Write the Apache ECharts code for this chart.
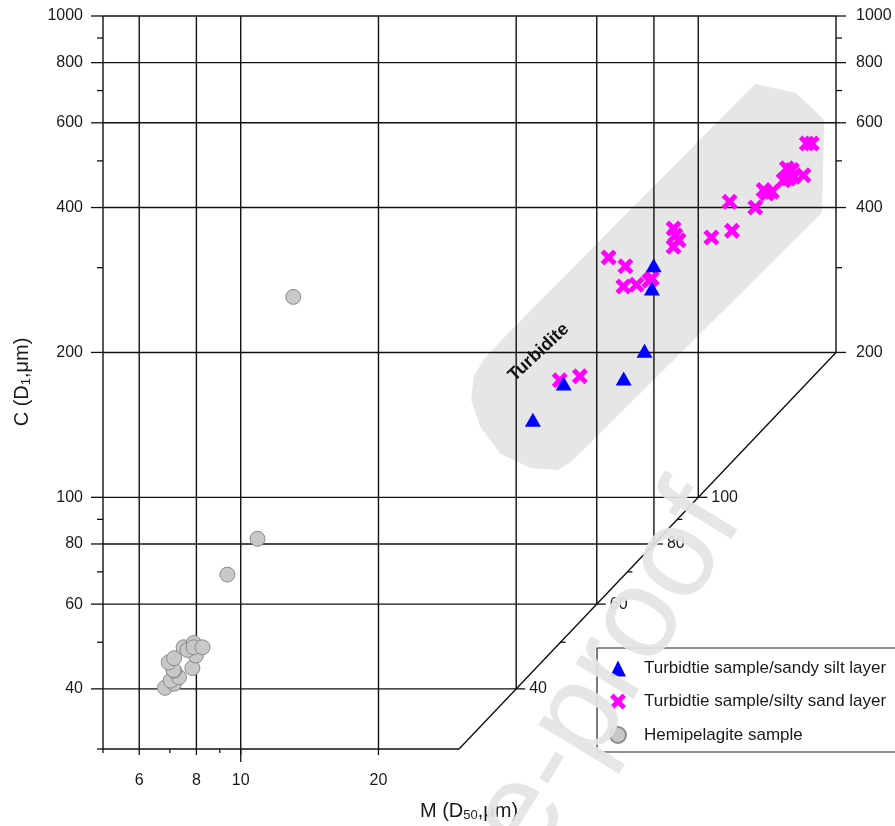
<!DOCTYPE html>
<html><head><meta charset="utf-8">
<script src="https://cdn.jsdelivr.net/npm/echarts@6/dist/echarts.min.js"></script>
<style>html,body{margin:0;padding:0;background:#fff}#chart{width:895px;height:826px}</style>
</head><body><div id="chart"></div>
<script>
// ---- axis ranges ----
const M_MIN = 5, M_MAX = 200, C_MIN = 30, C_MAX = 1000;
// ---- grid lines & ticks ----
const xGridValues = [6, 8, 10, 20, 40, 60, 80, 100];
const yGridValues = [40, 60, 80, 100, 200, 400, 600, 800, 1000];
const xTickLabels = [6, 8, 10, 20];
const xMinorTicks = [5, 7, 9];
const xLongTicks = [10];
const yTickLabels = [40, 60, 80, 100, 200, 400, 600, 800, 1000];
const yMinorTicks = [30, 50, 70, 90, 300, 500, 700, 900];
const rightTickLabels = [200, 400, 600, 800, 1000];
const rightMinorTicks = [300, 500, 700, 900];
const diagTickLabels = [40, 60, 80, 100];
const diagMinorTicks = [50, 70, 90];

// ---- data: M (D50) and C (D1), µm ----
const sandySiltM = [43.5, 50.8, 68.7, 76.3, 79.2, 79.9];
const sandySiltC = [145.0, 172.4, 176.5, 201.5, 271.6, 303.6];

const siltySandM = [49.8, 55.1, 63.7, 69.3, 68.6, 73.3, 78.2, 79.2, 88.3, 89.1, 88.3, 90.6, 106.8, 118.5, 117.1, 133.2, 141.3, 144.9, 138.9, 160.2, 157.5, 153.6, 161.5, 169.8, 156.2, 172.7, 177.1];
const siltySandC = [175.1, 178.5, 315, 302, 274.2, 276.6, 281.9, 285, 362, 350.5, 331.5, 342, 346.7, 357.9, 411.2, 400.2, 427.9, 431.2, 434.8, 478.5, 459.7, 456, 463.4, 467, 482.5, 543.6, 543.6];

const hemiM = [6.83, 7.15, 7.03, 7.33, 7.15, 7.13, 6.96, 7.84, 7.15, 7.98, 7.50, 7.65, 7.89, 7.89, 8.25, 9.35, 10.88, 13.03];
const hemiC = [40.2, 41.0, 41.6, 42.3, 43.6, 43.8, 45.4, 44.2, 46.3, 46.9, 48.8, 48.2, 49.8, 48.8, 48.8, 69.1, 82.0, 260.9];

// ---- turbidite field ----
const zoneM = [133.2, 163.7, 188.4, 186.5, 52.5, 49.2, 43.0, 37.0, 33.4, 31.9, 32.3, 33.9, 38.9];
const zoneC = [722, 692, 608, 390, 118, 114, 115, 123, 140, 159, 178, 193, 222];
const zoneLabel = 'Turbidite';
const zoneLabelPos = [44.8, 200];

const seriesNames = ['Turbidtie sample/sandy silt layer', 'Turbidtie sample/silty sand layer', 'Hemipelagite sample'];

const FONT = 'Arial, "Liberation Sans", Helvetica, sans-serif';
const INK = '#111';
const TXT = '#1a1a1a';

function segSeries(segs, width, z) {
  return {
    type: 'custom', coordinateSystem: 'cartesian2d', silent: true, z: z, clip: false,
    data: segs, encode: { x: [0, 2], y: [1, 3] },
    renderItem(params, api) {
      const a = api.coord([api.value(0), api.value(1)]);
      const b = api.coord([api.value(2), api.value(3)]);
      return { type: 'line', shape: { x1: a[0], y1: a[1], x2: b[0], y2: b[1] }, style: { stroke: INK, lineWidth: width } };
    }
  };
}
function tickSeries(points, dx, dy, lab) {
  return {
    type: 'custom', coordinateSystem: 'cartesian2d', silent: true, z: 3, clip: false,
    data: points,
    renderItem(params, api) {
      const v = api.value(1), u = api.value(0);
      const p = api.coord([u, v]);
      const ch = [{ type: 'line', shape: { x1: p[0], y1: p[1], x2: p[0] + dx, y2: p[1] + dy }, style: { stroke: INK, lineWidth: 1.3 } }];
      if (lab) {
        ch.push({ type: 'text', x: p[0] + lab.dx, y: p[1] + lab.dy,
          style: { text: String(lab.useX ? u : v), fill: TXT, fontSize: 16, fontFamily: FONT, align: lab.align, verticalAlign: 'middle' } });
      }
      return { type: 'group', children: ch };
    }
  };
}

const segs = [];
yGridValues.forEach(c => segs.push([M_MIN, c, Math.min(c, M_MAX), c]));
xGridValues.forEach(m => segs.push([m, Math.max(m, C_MIN), m, C_MAX]));
segs.push([M_MIN, C_MIN, M_MIN, C_MAX]);
segs.push([M_MAX, M_MAX, M_MAX, C_MAX]);
segs.push([M_MIN, C_MIN, C_MIN, C_MIN]);
segs.push([C_MIN, C_MIN, M_MAX, M_MAX]);

const chart = echarts.init(document.getElementById('chart'), null, { renderer: 'canvas' });
const hidden = { axisLine: { show: false }, axisTick: { show: false }, axisLabel: { show: false }, splitLine: { show: false } };
const titleRich = { a: { fontSize: 20, fontFamily: FONT, fill: TXT }, s: { fontSize: 13, fontFamily: FONT, fill: TXT, padding: [9, 0, 0, 0] } };

const option = {
  animation: false,
  backgroundColor: '#fff',
  grid: { left: 103, right: 59, top: 16, bottom: 77 },
  xAxis: Object.assign({ type: 'log', logBase: 10, min: M_MIN, max: M_MAX }, hidden),
  yAxis: Object.assign({ type: 'log', logBase: 10, min: C_MIN, max: C_MAX }, hidden),
  legend: {
    orient: 'vertical', left: 597, top: 648, padding: [12, 40, 8, 12], itemGap: 16,
    itemWidth: 16, itemHeight: 16, borderColor: '#222', borderWidth: 1.2, backgroundColor: '#fff',
    textStyle: { fontSize: 17, color: TXT, fontFamily: FONT, padding: [0, 0, 0, 13] }, data: seriesNames, selectedMode: false
  },
  graphic: [
    { type: 'text', x: 22, y: 382, rotation: Math.PI / 2, z: 50,
      style: { text: '{a|C (D}{s|1}{a|,μm)}', align: 'center', verticalAlign: 'middle', rich: titleRich } },
    { type: 'text', x: 469, y: 811, z: 50,
      style: { text: '{a|M (D}{s|50}{a|,μm)}', align: 'center', verticalAlign: 'middle', rich: titleRich } },
    { type: 'text', x: 714, y: 500, rotation: 58.5 * Math.PI / 180, z: 200, silent: true,
      style: { text: 'Journal Pre-proof', align: 'right', verticalAlign: 'middle', fontSize: 128, fontFamily: FONT, fill: 'rgba(228,228,228,0.93)' } }
  ],
  series: [
    {
      type: 'custom', coordinateSystem: 'cartesian2d', silent: true, z: 1,
      data: zoneM.map((m, i) => [m, zoneC[i]]),
      renderItem(params, api) {
        if (params.dataIndex !== 0) return null;
        const pts = zoneM.map((m, i) => api.coord([m, zoneC[i]]));
        return { type: 'polygon', shape: { points: pts }, style: { fill: '#e6e6e6' } };
      }
    },
    segSeries(segs, 1.4, 2),
    tickSeries(yTickLabels.map(v => [M_MIN, v]), -12, 0, { dx: -20, dy: 0, align: 'right' }),
    tickSeries(yMinorTicks.map(v => [M_MIN, v]), -6, 0, null),
    tickSeries(rightTickLabels.map(v => [M_MAX, v]), 10, 0, { dx: 20, dy: 0, align: 'left' }),
    tickSeries(rightMinorTicks.map(v => [M_MAX, v]), 6, 0, null),
    tickSeries(xTickLabels.map(v => [v, C_MIN]), 0, 6, { dx: 0, dy: 32, align: 'center', useX: true }),
    tickSeries(xMinorTicks.map(v => [v, C_MIN]), 0, 4, null),
    tickSeries(xLongTicks.map(v => [v, C_MIN]), 0, 13, null),
    tickSeries(diagTickLabels.map(v => [v, v]), 9, 0, { dx: 13, dy: 0, align: 'left' }),
    tickSeries(diagMinorTicks.map(v => [v, v]), 5, 0, null),
    {
      name: seriesNames[2], type: 'scatter', z: 5, symbol: 'circle', symbolSize: 15,
      itemStyle: { color: '#c8c8c8', borderColor: '#8a8a8a', borderWidth: 1, opacity: 1 },
      data: hemiM.map((m, i) => [m, hemiC[i]])
    },
    {
      name: seriesNames[1], type: 'scatter', z: 6,
      symbol: 'path://M0,3.5L3.5,0L8,4.5L12.5,0L16,3.5L11.5,8L16,12.5L12.5,16L8,11.5L3.5,16L0,12.5L4.5,8Z', symbolSize: 16,
      itemStyle: { color: '#ff00ff', opacity: 1 },
      data: siltySandM.map((m, i) => [m, siltySandC[i]])
    },
    {
      name: seriesNames[0], type: 'scatter', z: 7, symbol: 'triangle', symbolSize: [16, 14],
      itemStyle: { color: '#0000ff', opacity: 1 },
      data: sandySiltM.map((m, i) => [m, sandySiltC[i]])
    },
    {
      type: 'custom', coordinateSystem: 'cartesian2d', silent: true, z: 8,
      data: [zoneLabelPos],
      renderItem(params, api) {
        const p = api.coord([api.value(0), api.value(1)]);
        return { type: 'text', x: p[0], y: p[1], rotation: 43 * Math.PI / 180,
          style: { text: zoneLabel, fontSize: 18, fontWeight: 'bold', fontFamily: FONT, fill: '#111', align: 'center', verticalAlign: 'middle' } };
      }
    }
  ]
};
chart.setOption(option);
</script></body></html>
